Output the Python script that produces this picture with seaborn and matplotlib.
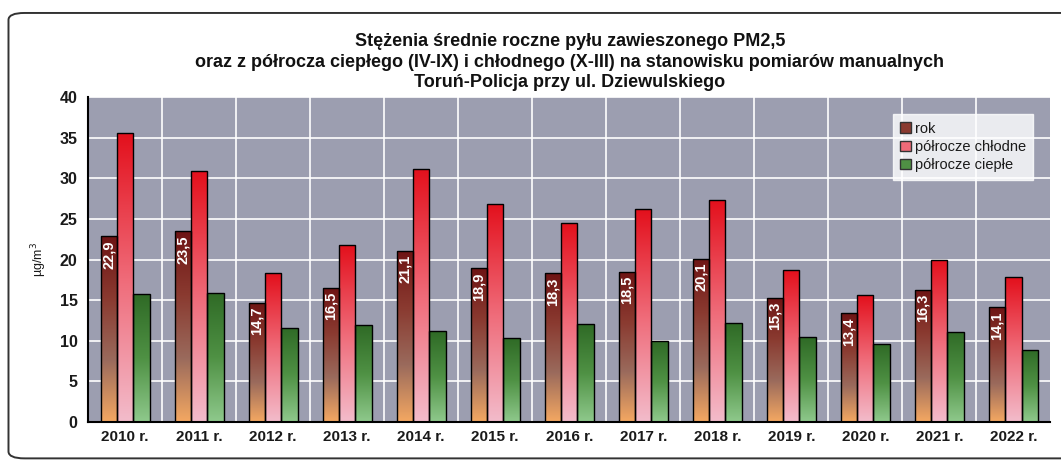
import numpy as np
import pandas as pd
import seaborn as sns
import matplotlib.pyplot as plt
from matplotlib.colors import LinearSegmentedColormap
from matplotlib.patches import FancyBboxPatch, Patch

# data
years = ['2010 r.', '2011 r.', '2012 r.', '2013 r.', '2014 r.', '2015 r.', '2016 r.',
         '2017 r.', '2018 r.', '2019 r.', '2020 r.', '2021 r.', '2022 r.']
rok = [22.9, 23.5, 14.7, 16.5, 21.1, 18.9, 18.3, 18.5, 20.1, 15.3, 13.4, 16.3, 14.1]
chlodne = [35.6, 30.9, 18.3, 21.8, 31.2, 26.9, 24.5, 26.2, 27.3, 18.7, 15.6, 20.0, 17.8]
cieple = [15.7, 15.9, 11.6, 11.9, 11.2, 10.3, 12.0, 9.9, 12.2, 10.4, 9.6, 11.1, 8.9]
series = ['rok', 'półrocze chłodne', 'półrocze ciepłe']

df = pd.DataFrame({
    'year': years * 3,
    'value': rok + chlodne + cieple,
    'series': [series[0]] * 13 + [series[1]] * 13 + [series[2]] * 13,
})

# gradients: top colour -> bottom colour
grads = {
    'rok': ['#6e1414', '#8a3a30', '#9a6a5c', '#f4a862'],
    'półrocze chłodne': ['#e3101c', '#ef6a78', '#f3bccb'],
    'półrocze ciepłe': ['#2f6a26', '#4f9144', '#8fc98c'],
}

sns.set_style('white')
plt.rcParams['font.family'] = ['Liberation Sans', 'DejaVu Sans']

fig = plt.figure(figsize=(10.61, 4.63), dpi=100)
ax = fig.add_axes([0.083, 0.089, 0.907, 0.701])
ax.set_facecolor('#9c9eb0')

sns.barplot(data=df, x='year', y='value', hue='series', hue_order=series,
            width=0.66, gap=0, ax=ax, legend=False, saturation=1)

# replace flat fill with a vertical gradient clipped to each bar
for i, cont in enumerate(ax.containers):
    cmap = LinearSegmentedColormap.from_list(series[i], grads[series[i]][::-1])
    for p in cont.patches:
        x0, y0 = p.get_x(), p.get_y()
        w, h = p.get_width(), p.get_height()
        grad = np.linspace(0, 1, 256).reshape(-1, 1)
        im = ax.imshow(grad, cmap=cmap, origin='lower', aspect='auto',
                       extent=[x0, x0 + w, y0, y0 + h], zorder=2)
        im.set_clip_path(p)
        p.set_facecolor('none')
        p.set_edgecolor('black')
        p.set_linewidth(1.0)
        p.set_zorder(3)

# labels on the annual bars
for p, v in zip(ax.containers[0].patches, rok):
    ax.text(p.get_x() + p.get_width() / 2, v - 0.5, f'{v:.1f}'.replace('.', ','),
            rotation=90, ha='center', va='top', color='white',
            fontsize=10.5, fontweight='bold', zorder=4)

ax.set_xlim(-0.5, 12.5)
ax.set_ylim(0, 40)
ax.set_yticks(range(0, 41, 5))
ax.set_xticks(np.arange(-0.5, 12.6, 1), minor=True)
ax.grid(False)
for y in range(5, 41, 5):
    ax.axhline(y, color='white', lw=1.2, zorder=1)
for x in np.arange(0.5, 12.5, 1):
    ax.axvline(x, color='white', lw=1.2, zorder=1)

ax.tick_params(axis='x', which='major', length=0, labelsize=11, pad=6)
ax.tick_params(axis='x', which='minor', length=4, color='black', direction='out')
ax.tick_params(axis='y', length=4, color='black', direction='out', labelsize=11.5)
for lab in ax.get_xticklabels() + ax.get_yticklabels():
    lab.set_fontweight('bold')
    lab.set_color('#1a1a1a')
ax.set_xlabel('')
ax.set_ylabel('µg/m$^3$', fontsize=9, labelpad=8, color='#1a1a1a')

for side in ['top', 'right']:
    ax.spines[side].set_visible(False)
ax.spines['left'].set_color('black')
ax.spines['left'].set_linewidth(1.5)
ax.spines['bottom'].set_color('black')
ax.spines['bottom'].set_linewidth(1.5)

handles = [Patch(facecolor=grads[s][1], edgecolor='#333333') for s in series]
leg = ax.legend(handles, series, loc='upper right', bbox_to_anchor=(0.99, 0.97),
                frameon=True, fancybox=False, fontsize=10.5, handlelength=0.7,
                handleheight=0.7, handletextpad=0.3, borderpad=0.5, labelspacing=0.3)
leg.get_frame().set_facecolor('white')
leg.get_frame().set_edgecolor('white')
for t in leg.get_texts():
    t.set_color('#1a1a1a')

fig.text(0.537, 0.866, 'Stężenia średnie roczne pyłu zawieszonego PM2,5\n'
         'oraz z półrocza ciepłego (IV-IX) i chłodnego (X-III) na stanowisku pomiarów manualnych\n'
         'Toruń-Policja przy ul. Dziewulskiego',
         ha='center', va='center', fontsize=13, fontweight='bold', linespacing=1.3,
         color='#111111')

frame = FancyBboxPatch((0.008, 0.01), 1.2, 0.962, boxstyle='round,pad=0,rounding_size=0.015',
                       transform=fig.transFigure, facecolor='none', edgecolor='#333333', lw=1.4)
fig.patches.append(frame)

fig.savefig('out.png', dpi=100)
